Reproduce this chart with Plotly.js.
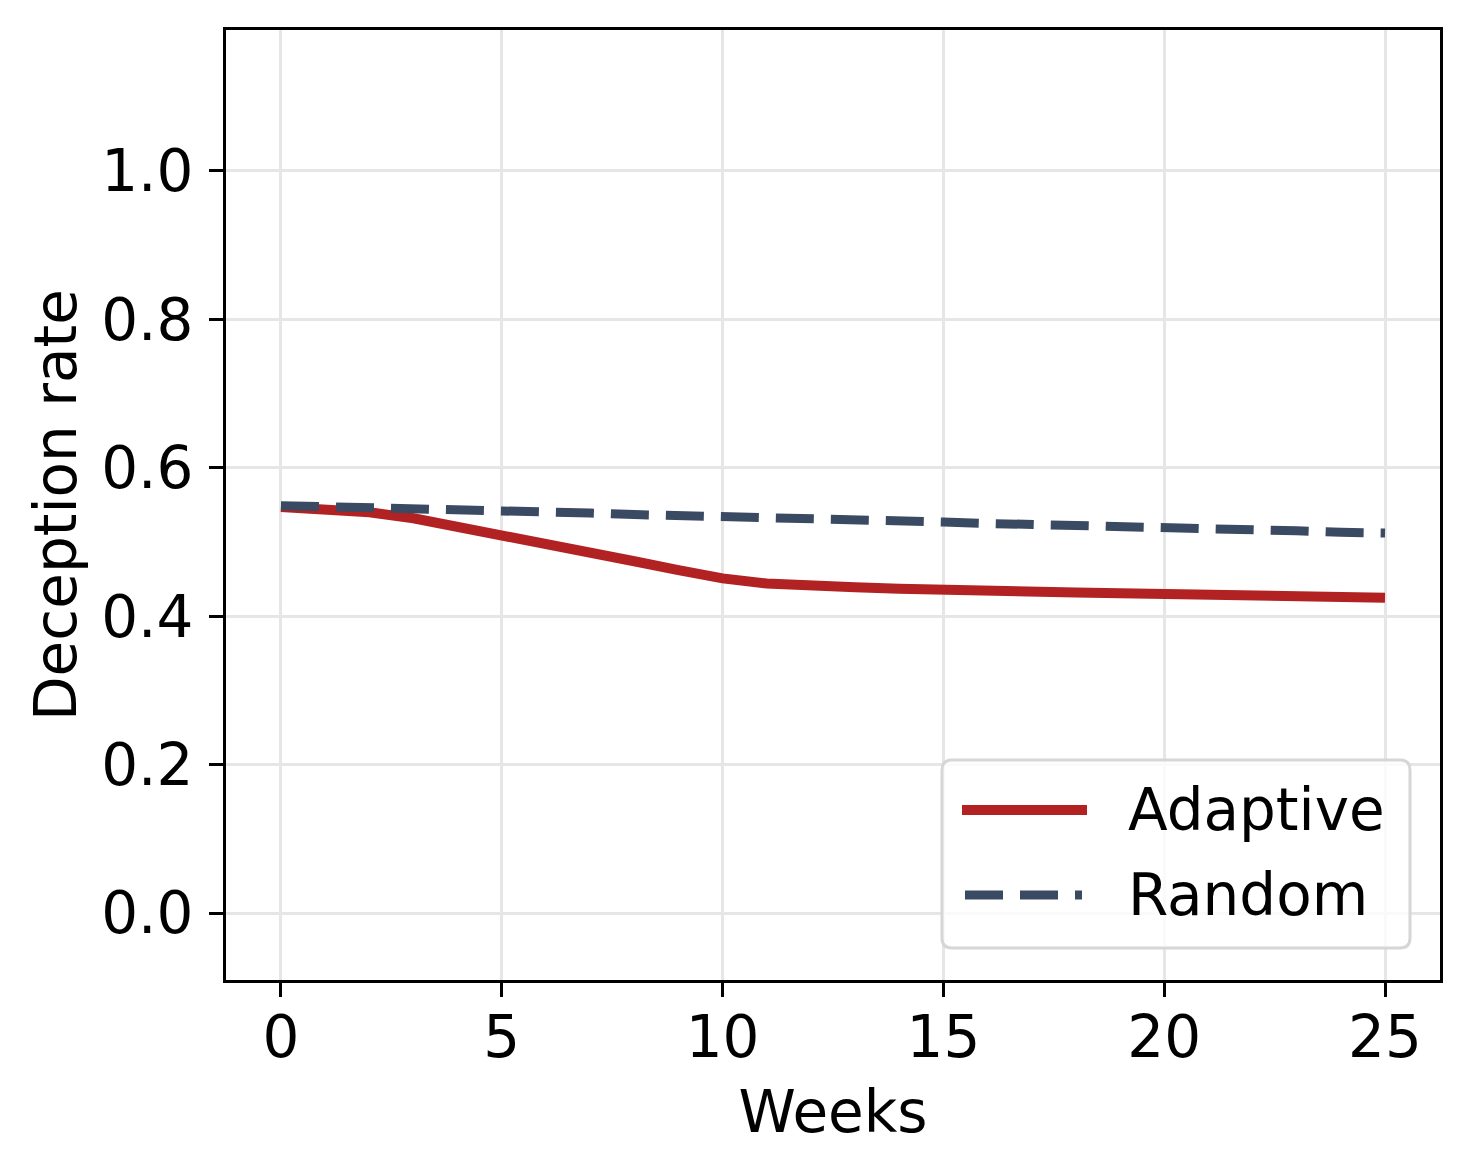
<!DOCTYPE html>
<html>
<head>
<meta charset="utf-8">
<script src="https://cdn.plot.ly/plotly-3.0.1.min.js"></script>
<style>html,body{margin:0;padding:0;background:#fff;}#chart{width:1469px;height:1170px;}</style>
</head>
<body>
<div id="chart"></div>
<script>
const weeks = [0,1,2,3,4,5,6,7,8,9,10,11,12,13,14,15,16,17,18,19,20,21,22,23,24,25];
const adaptive = [0.547,0.545,0.540,0.532,0.521,0.509,0.497,0.486,0.474,0.462,0.451,0.444,0.440,0.439,0.437,0.435,0.434,0.433,0.432,0.431,0.430,0.429,0.428,0.427,0.426,0.425];
const random = [0.549,0.548,0.546,0.545,0.543,0.542,0.540,0.539,0.537,0.536,0.534,0.533,0.531,0.530,0.528,0.527,0.525,0.524,0.522,0.521,0.519,0.518,0.516,0.515,0.513,0.512];
const seriesNames = ["Adaptive","Random"];
const xTicks = [0,5,10,15,20,25];
const yTicks = [0.0,0.2,0.4,0.6,0.8,1.0];
const yTickText = ["0.0","0.2","0.4","0.6","0.8","1.0"];

const RED = "#b22222", NAVY = "#3a4a63";
const FS = 58;
const W = 1469, H = 1170;
const L = 226, R = 29, T = 30, B = 190;
const pw = W - L - R, ph = H - T - B;
function px(x){ return (x - L) / pw; }
function py(y){ return (H - B - y) / ph; }

const traces = [
  {x: weeks, y: adaptive, name: seriesNames[0], mode: "lines", line: {color: RED, width: 10}, showlegend: false},
  {x: weeks, y: random, name: seriesNames[1], mode: "lines", line: {color: NAVY, width: 9, dash: "38px,17px"}, showlegend: false}
];

// legend box (rounded) in paper coords
const bx0 = 942, bx1 = 1410, by0 = 760, by1 = 948, r = 10;
const rx = r / pw, ry = r / ph;
const X0 = px(bx0), X1 = px(bx1), Y0 = py(by1), Y1 = py(by0);
const boxPath = `M ${X0+rx} ${Y0} L ${X1-rx} ${Y0} Q ${X1} ${Y0} ${X1} ${Y0+ry} L ${X1} ${Y1-ry} Q ${X1} ${Y1} ${X1-rx} ${Y1} L ${X0+rx} ${Y1} Q ${X0} ${Y1} ${X0} ${Y1-ry} L ${X0} ${Y0+ry} Q ${X0} ${Y0} ${X0+rx} ${Y0} Z`;

const shapes = [
  {type: "path", xref: "paper", yref: "paper", path: boxPath, fillcolor: "rgba(255,255,255,0.8)", line: {color: "#d6d6d6", width: 3}, layer: "above"},
  {type: "line", xref: "paper", yref: "paper", x0: px(962), x1: px(1087), y0: py(810), y1: py(810), line: {color: RED, width: 10}, layer: "above"},
  {type: "line", xref: "paper", yref: "paper", x0: px(965), x1: px(1082), y0: py(895), y1: py(895), line: {color: NAVY, width: 9, dash: "38px,17px"}, layer: "above"}
];

const annotations = [
  {xref: "paper", yref: "paper", x: px(1126), y: py(810), xanchor: "left", yanchor: "middle", text: seriesNames[0], showarrow: false, font: {size: FS, color: "#000"}},
  {xref: "paper", yref: "paper", x: px(1126), y: py(895), xanchor: "left", yanchor: "middle", text: seriesNames[1], showarrow: false, font: {size: FS, color: "#000"}}
];

const layout = {
  width: W, height: H,
  margin: {l: L, r: R, t: T, b: B, pad: 0},
  paper_bgcolor: "#fff", plot_bgcolor: "#fff",
  font: {family: "DejaVu Sans", size: FS, color: "#000"},
  xaxis: {
    range: [-1.245, 26.245], tickvals: xTicks, ticktext: xTicks.map(String),
    showgrid: true, gridcolor: "#e6e6e6", gridwidth: 3, zeroline: false,
    showline: true, linecolor: "#000", linewidth: 3, mirror: true,
    ticks: "outside", ticklen: 14, tickwidth: 3, tickcolor: "#000",
    tickfont: {size: FS}, ticklabelstandoff: -10,
    title: {text: "Weeks", font: {size: FS}, standoff: 22},
    automargin: false
  },
  yaxis: {
    range: [-0.0903, 1.19], tickvals: yTicks, ticktext: yTickText,
    showgrid: true, gridcolor: "#e6e6e6", gridwidth: 3, zeroline: false,
    showline: true, linecolor: "#000", linewidth: 3, mirror: true,
    ticks: "outside", ticklen: 14, tickwidth: 3, tickcolor: "#000",
    tickfont: {size: FS}, ticklabelstandoff: 4,
    title: {text: "Deception rate", font: {size: FS}, standoff: 6},
    automargin: false
  },
  shapes: shapes,
  annotations: annotations,
  showlegend: false
};

Plotly.newPlot("chart", traces, layout, {displayModeBar: false, staticPlot: true});
</script>
</body>
</html>
